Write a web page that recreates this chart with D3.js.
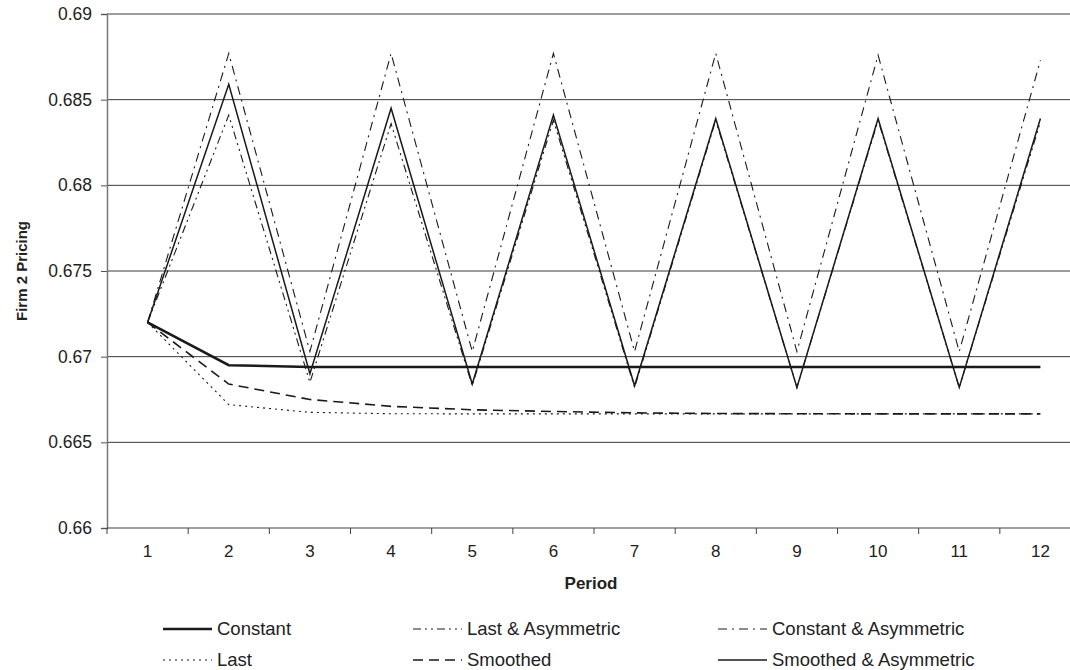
<!DOCTYPE html>
<html>
<head>
<meta charset="utf-8">
<script src="https://cdn.jsdelivr.net/npm/d3@7"></script>
<style>
  body { margin: 0; background: #fff; }
  text { font-family: "Liberation Sans", Arial, sans-serif; fill: #222; }
</style>
</head>
<body>
<div id="chart"></div>
<script>
const periods = [1, 2, 3, 4, 5, 6, 7, 8, 9, 10, 11, 12]
const yTicks = [0.66, 0.665, 0.67, 0.675, 0.68, 0.685, 0.69]
const constant = [0.672, 0.6695, 0.6694, 0.6694, 0.6694, 0.6694, 0.6694, 0.6694, 0.6694, 0.6694, 0.6694, 0.6694]
const last = [0.672, 0.6672, 0.66675, 0.66667, 0.66666, 0.66666, 0.66666, 0.66666, 0.66666, 0.66666, 0.66666, 0.66666]
const smoothed = [0.672, 0.6684, 0.6675, 0.6671, 0.6669, 0.6668, 0.66672, 0.66668, 0.66667, 0.66666, 0.66666, 0.66666]
const lastAsym = [0.672, 0.6841, 0.6685, 0.6836, 0.6683, 0.6838, 0.6682, 0.6838, 0.6682, 0.6838, 0.6682, 0.6837]
const constAsym = [0.672, 0.6877, 0.6703, 0.6877, 0.6703, 0.6877, 0.6703, 0.6877, 0.6703, 0.6876, 0.6703, 0.6873]
const smoothAsym = [0.672, 0.6859, 0.669, 0.6845, 0.6684, 0.6841, 0.6683, 0.6839, 0.6682, 0.6839, 0.6682, 0.6839]

const width = 1070
const height = 670
const margin = {top: 14, left: 107, bottom: 142}
const plotRight = 1081 // last band runs past the window edge
const legendCols = [163, 413, 718]

// series styles, in legend order (row by row)
const series = [
  {name: "Constant", values: constant, width: 2.6, dash: null, col: 0, row: 0},
  {name: "Last & Asymmetric", values: lastAsym, width: 1.1, dash: "8,4,2,4,2,4", col: 1, row: 0},
  {name: "Constant & Asymmetric", values: constAsym, width: 1.1, dash: "9,5,2,5", col: 2, row: 0},
  {name: "Last", values: last, width: 1.1, dash: "2,4", col: 0, row: 1},
  {name: "Smoothed", values: smoothed, width: 1.6, dash: "10,6", col: 1, row: 1},
  {name: "Smoothed & Asymmetric", values: smoothAsym, width: 1.5, dash: null, col: 2, row: 1},
]

const svg = d3.select("#chart").append("svg")
  .attr("width", width)
  .attr("height", height)

const x = d3.scaleBand().domain(periods).range([margin.left, plotRight]).padding(0)
const y = d3.scaleLinear().domain([0.66, 0.69]).range([height - margin.bottom, margin.top])
const xc = d => x(d) + x.bandwidth() / 2

// gridlines
svg.append("g")
  .selectAll("line")
  .data(yTicks.filter(d => d > 0.66))
  .enter()
  .append("line")
  .attr("x1", margin.left)
  .attr("x2", plotRight)
  .attr("y1", d => y(d))
  .attr("y2", d => y(d))
  .attr("stroke", "#3a3a3a")
  .attr("stroke-width", 1)

// y axis
const yAxis = svg.append("g")
  .attr("transform", `translate(${margin.left},0)`)
  .call(d3.axisLeft(y).tickValues(yTicks).tickSize(6).tickPadding(9).tickFormat(d => String(+d.toFixed(3))))
yAxis.select(".domain").attr("stroke", "#777").attr("stroke-width", 1.5)
yAxis.selectAll(".tick line").attr("stroke", "#555")
yAxis.selectAll(".tick text")
  .style("font-family", "Liberation Sans, Arial, sans-serif")
  .style("font-size", "17.5px")
  .attr("fill", "#222")

// x axis: labels at band centres, ticks at band edges
const xAxis = svg.append("g")
  .attr("transform", `translate(0,${y(0.66)})`)
xAxis.append("line")
  .attr("x1", margin.left)
  .attr("x2", plotRight)
  .attr("stroke", "#444")
  .attr("stroke-width", 1.2)
xAxis.selectAll(".xtick")
  .data(periods)
  .enter()
  .append("line")
  .attr("class", "xtick")
  .attr("x1", d => x(d))
  .attr("x2", d => x(d))
  .attr("y1", 0)
  .attr("y2", 6)
  .attr("stroke", "#444")
xAxis.selectAll(".xlabel")
  .data(periods)
  .enter()
  .append("text")
  .attr("class", "xlabel")
  .attr("x", d => xc(d))
  .attr("y", 29)
  .attr("text-anchor", "middle")
  .style("font-size", "17px")
  .text(d => d)

// axis titles
svg.append("text")
  .attr("x", 591)
  .attr("y", 589)
  .attr("text-anchor", "middle")
  .style("font-size", "17px")
  .style("font-weight", "bold")
  .text("Period")
svg.append("text")
  .attr("transform", `translate(27,${(margin.top + y(0.66)) / 2}) rotate(-90)`)
  .attr("text-anchor", "middle")
  .style("font-size", "15px")
  .style("font-weight", "bold")
  .text("Firm 2 Pricing")

// lines
const line = d3.line()
  .x((d, i) => xc(periods[i]))
  .y(d => y(d))

svg.append("g")
  .selectAll("path")
  .data(series)
  .enter()
  .append("path")
  .attr("d", d => line(d.values))
  .attr("fill", "none")
  .attr("stroke", "#1a1a1a")
  .attr("stroke-width", d => d.width)
  .attr("stroke-dasharray", d => d.dash)
  .attr("stroke-linejoin", "miter")

// legend
const legend = svg.append("g")
  .selectAll("g")
  .data(series)
  .enter()
  .append("g")
  .attr("transform", d => `translate(${legendCols[d.col]},${629 + d.row * 31})`)
legend.append("line")
  .attr("x1", 0)
  .attr("x2", 49)
  .attr("stroke", "#1a1a1a")
  .attr("stroke-width", d => d.width)
  .attr("stroke-dasharray", d => d.dash)
legend.append("text")
  .attr("x", 54)
  .attr("dy", "0.35em")
  .style("font-size", "18.5px")
  .text(d => d.name)
</script>
</body>
</html>
